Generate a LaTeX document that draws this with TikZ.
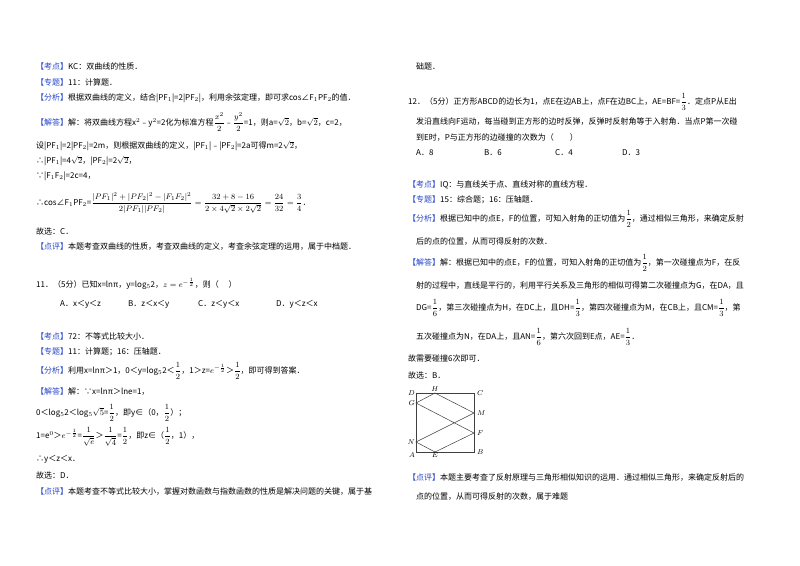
\documentclass[tikz,border=0pt]{standalone}
\usepackage{fontspec}
\usepackage{amsmath}
\setmainfont{Noto Sans CJK SC}
\definecolor{tagblue}{RGB}{40,70,200}
\newcommand\tg[1]{\textcolor{tagblue}{【#1】}}
\newcommand\sq[1]{\sqrt{#1}}
\newcommand\fr[2]{\dfrac{#1}{#2}}
\begin{document}
\begin{tikzpicture}[x=1pt,y=-1pt,
  tx/.style={anchor=west,inner sep=0pt,font=\fontsize{8}{10}\selectfont},
  lab/.style={inner sep=1pt,font=\fontsize{7}{8}\selectfont}]
\fill[white] (0,0) rectangle (800,565);
\useasboundingbox (0,0) rectangle (800,565);
% left column
\node[tx] (l1) at (36,66) {\tg{考点}KC：双曲线的性质．};
\node[tx] (l2) at (36,82) {\tg{专题}11：计算题．};
\node[tx] (l3) at (36,98) {\tg{分析}根据双曲线的定义，结合|PF$_1$|=2|PF$_2$|，利用余弦定理，即可求cos∠F$_1$PF$_2$的值．};
\node[tx] (l4) at (36,122) {\tg{解答}解：将双曲线方程x$^2$﹣y$^2$=2化为标准方程$\fr{x^2}{2}$﹣$\fr{y^2}{2}$=1，则a=$\sq2$，b=$\sq2$，c=2，};
\node[tx] (l5) at (36,146) {设|PF$_1$|=2|PF$_2$|=2m，则根据双曲线的定义，|PF$_1$|﹣|PF$_2$|=2a可得m=2$\sq2$，};
\node[tx] (l6) at (36,161) {∴|PF$_1$|=4$\sq2$，|PF$_2$|=2$\sq2$，};
\node[tx] (l7) at (36,176) {∵|F$_1$F$_2$|=2c=4，};
\node[tx] (l8) at (36,203) {∴cos∠F$_1$PF$_2$=$\fr{|PF_1|^2+|PF_2|^2-|F_1F_2|^2}{2|PF_1||PF_2|}=\fr{32+8-16}{2\times4\sqrt2\times2\sqrt2}=\fr{24}{32}=\fr34$．};
\node[tx] (l9) at (36,231) {故选：C．};
\node[tx] (l10) at (36,247) {\tg{点评}本题考查双曲线的性质，考查双曲线的定义，考查余弦定理的运用，属于中档题．};
\node[tx] (l11) at (36,284) {11．（5分）已知x=lnπ，y=log$_5$2，$z=e^{-\frac12}$，则（\quad\ ）};
\node[tx] (l12a) at (60,304) {A．x＜y＜z};
\node[tx] (l12b) at (128,304) {B．z＜x＜y};
\node[tx] (l12c) at (198,304) {C．z＜y＜x};
\node[tx] (l12d) at (276,304) {D．y＜z＜x};
\node[tx] (l13) at (36,336) {\tg{考点}72：不等式比较大小．};
\node[tx] (l14) at (36,352) {\tg{专题}11：计算题；16：压轴题．};
\node[tx] (l15) at (36,371) {\tg{分析}利用x=lnπ＞1，0＜y=log$_5$2＜$\fr12$，1＞z=$e^{-\frac12}$＞$\fr12$，即可得到答案．};
\node[tx] (l16) at (36,392) {\tg{解答}解：∵x=lnπ＞lne=1，};
\node[tx] (l17) at (36,413) {0＜log$_5$2＜log$_5\sq5$=$\fr12$，即y∈（0，$\fr12$）；};
\node[tx] (l18) at (36,437) {1=e$^0$＞$e^{-\frac12}$=$\fr1{\sqrt e}$＞$\fr1{\sqrt4}$=$\fr12$，即z∈（$\fr12$，1），};
\node[tx] (l19) at (36,459) {∴y＜z＜x．};
\node[tx] (l20) at (36,475) {故选：D．};
\node[tx] (l21) at (36,492) {\tg{点评}本题考查不等式比较大小，掌握对数函数与指数函数的性质是解决问题的关键，属于基};
% right column
\node[tx] (r1) at (416,66) {础题．};
\node[tx] (r2) at (408,102) {12．（5分）正方形ABCD的边长为1，点E在边AB上，点F在边BC上，AE=BF=$\fr13$．定点P从E出};
\node[tx] (r3) at (416,122) {发沿直线向F运动，每当碰到正方形的边时反弹，反弹时反射角等于入射角．当点P第一次碰};
\node[tx] (r4) at (416,138) {到E时，P与正方形的边碰撞的次数为（\qquad ）};
\node[tx] (r5a) at (416,153) {A．8};
\node[tx] (r5b) at (484,153) {B．6};
\node[tx] (r5c) at (555,153) {C．4};
\node[tx] (r5d) at (622,153) {D．3};
\node[tx] (r6) at (408,185) {\tg{考点}IQ：与直线关于点、直线对称的直线方程．};
\node[tx] (r7) at (408,200) {\tg{专题}15：综合题；16：压轴题．};
\node[tx] (r8) at (408,219) {\tg{分析}根据已知中的点E，F的位置，可知入射角的正切值为$\fr12$，通过相似三角形，来确定反射};
\node[tx] (r9) at (416,242) {后的点的位置，从而可得反射的次数．};
\node[tx] (r10) at (408,263) {\tg{解答}解：根据已知中的点E，F的位置，可知入射角的正切值为$\fr12$，第一次碰撞点为F，在反};
\node[tx] (r11) at (416,286) {射的过程中，直线是平行的，利用平行关系及三角形的相似可得第二次碰撞点为G，在DA，且};
\node[tx] (r12) at (416,308) {DG=$\fr16$，第三次碰撞点为H，在DC上，且DH=$\fr13$，第四次碰撞点为M，在CB上，且CM=$\fr13$，第};
\node[tx] (r13) at (416,337) {五次碰撞点为N，在DA上，且AN=$\fr16$，第六次回到E点，AE=$\fr13$．};
\node[tx] (r14) at (408,358) {故需要碰撞6次即可．};
\node[tx] (r15) at (408,375) {故选：B．};
% figure
\begin{scope}[line width=0.5pt,draw=black!75]
\coordinate (A) at (416,452); \coordinate (B) at (474,452);
\coordinate (C) at (474,393); \coordinate (D) at (416,393);
\coordinate (E) at (435,452); \coordinate (F) at (474,433);
\coordinate (G) at (416,403); \coordinate (H) at (435,393);
\coordinate (M) at (474,413); \coordinate (N) at (416,442);
\draw (A) -- (B) -- (C) -- (D) -- cycle;
\draw (E) -- (F) -- (G) -- (H) -- (M) -- (N) -- cycle;
\end{scope}
\node[lab,anchor=east] (lD) at (D) {$D$};
\node[lab,anchor=south] (lH) at (H) {$H$};
\node[lab,anchor=west] (lC) at ([xshift=2pt]C) {$C$};
\node[lab,anchor=east] (lG) at (G) {$G$};
\node[lab,anchor=west] (lM) at ([xshift=2pt]M) {$M$};
\node[lab,anchor=west] (lF) at ([xshift=2pt]F) {$F$};
\node[lab,anchor=east] (lN) at (N) {$N$};
\node[lab,anchor=north east] (lA) at (A) {$A$};
\node[lab,anchor=north] (lE) at (E) {$E$};
\node[lab,anchor=west] (lB) at ([xshift=2pt]B) {$B$};
\node[tx] (r16) at (408,478) {\tg{点评}本题主要考查了反射原理与三角形相似知识的运用．通过相似三角形，来确定反射后的};
\node[tx] (r17) at (416,497) {点的位置，从而可得反射的次数，属于难题};
\end{tikzpicture}
\end{document}
